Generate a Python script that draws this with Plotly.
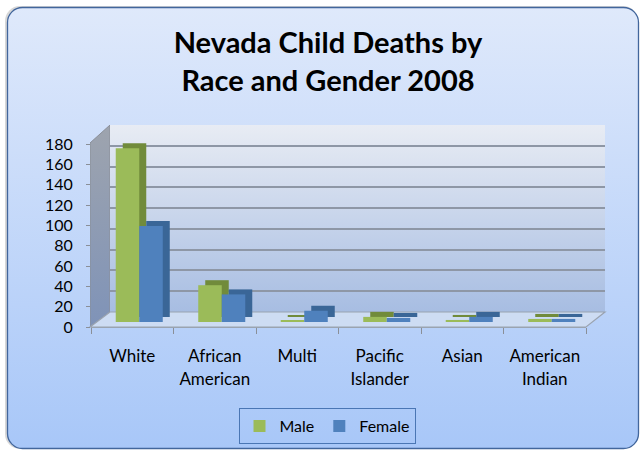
import base64
import plotly.graph_objects as go

categories = ["White", "African<br>American", "Multi", "Pacific<br>Islander", "Asian", "American<br>Indian"]
male = [170, 36, 1, 5, 2, 3]
female = [94, 27, 11, 4, 5, 3]
y_ticks = [0, 20, 40, 60, 80, 100, 120, 140, 160, 180]
series_names = ["Male", "Female"]
face_colors = ["#9bbb59", "#4f81bd"]
side_colors = ["#718b3b", "#3a6697"]

W, H = 642, 450
YMAX = 180

def px_x(px):
    return px / W

def px_y(py):
    return 1 - py / H

def xdom(left, right):
    return [px_x(left), px_x(right)]

def ydom(zero_px, top_px):
    return [px_y(zero_px), px_y(top_px)]

def svg_uri(svg):
    return "data:image/svg+xml;base64," + base64.b64encode(svg.encode()).decode()

chart_bg = svg_uri(
    f'<svg xmlns="http://www.w3.org/2000/svg" width="{W}" height="{H}" viewBox="0 0 {W} {H}" preserveAspectRatio="none">'
    '<defs><linearGradient id="g" x1="0" y1="0" x2="0" y2="1">'
    '<stop offset="0" stop-color="#dfe9fb"/><stop offset="1" stop-color="#a8c7f8"/>'
    '</linearGradient></defs>'
    '<rect x="5" y="6" width="633" height="443" rx="15" fill="#bdbdbd" opacity="0.6"/>'
    '<rect x="7.5" y="7.5" width="631" height="441" rx="15" fill="url(#g)" stroke="#42669c" stroke-width="1.3"/>'
    '</svg>'
)
wall_bg = svg_uri(
    '<svg xmlns="http://www.w3.org/2000/svg" width="100" height="100" viewBox="0 0 100 100" preserveAspectRatio="none">'
    '<defs><linearGradient id="w" x1="0" y1="0" x2="0" y2="1">'
    '<stop offset="0" stop-color="#e8ecf4"/><stop offset="1" stop-color="#a7bde2"/>'
    '</linearGradient></defs>'
    '<rect x="0" y="0" width="100" height="100" fill="url(#w)"/>'
    '</svg>'
)
side_wall = svg_uri(
    '<svg xmlns="http://www.w3.org/2000/svg" width="20" height="202" viewBox="0 0 20 202" preserveAspectRatio="none">'
    '<defs><linearGradient id="s" x1="0" y1="0" x2="0" y2="1">'
    '<stop offset="0" stop-color="#9ea4ae"/><stop offset="1" stop-color="#7f93b8"/>'
    '</linearGradient></defs>'
    '<path d="M0,18 L20,0 L20,187 L0,202 Z" fill="url(#s)" stroke="#8a8f98" stroke-width="1"/>'
    '</svg>'
)

# pixel geometry of the pseudo-3D box
FRONT_L, FRONT_R, FRONT_ZERO, FRONT_TOP = 91, 586, 327, 144
BACK_L, BACK_R, BACK_ZERO, BACK_TOP = 110, 605, 312, 125
BAR_DX, BAR_ZERO, BAR_TOP = 7, 322, 138
DEPTH_DX, DEPTH_DY = 7, 5

fig = go.Figure()

# invisible anchors so the front axes and the back-wall grid get drawn
fig.add_trace(go.Scatter(x=categories, y=male, xaxis="x", yaxis="y", mode="markers",
                         marker=dict(opacity=0), showlegend=False, hoverinfo="skip"))
fig.add_trace(go.Scatter(x=categories, y=male, xaxis="x2", yaxis="y2", mode="markers",
                         marker=dict(opacity=0), showlegend=False, hoverinfo="skip"))
# bar depth (drawn behind the faces)
for name, vals, col in zip(series_names, [male, female], side_colors):
    fig.add_trace(go.Bar(name=name, x=categories, y=vals, xaxis="x3", yaxis="y3",
                         marker=dict(color=col, line=dict(width=0)),
                         showlegend=False, hoverinfo="skip"))
# bar faces
for name, vals, col in zip(series_names, [male, female], face_colors):
    fig.add_trace(go.Bar(name=name, x=categories, y=vals, xaxis="x4", yaxis="y4",
                         marker=dict(color=col, line=dict(width=0))))

floor_path = (f"M {px_x(FRONT_L - 1)},{px_y(FRONT_ZERO)} L {px_x(FRONT_R)},{px_y(FRONT_ZERO)} "
              f"L {px_x(BACK_R)},{px_y(BACK_ZERO)} L {px_x(BACK_L)},{px_y(BACK_ZERO)} Z")

fig.update_layout(
    width=W, height=H,
    margin=dict(l=0, r=0, t=0, b=0),
    paper_bgcolor="rgba(0,0,0,0)",
    plot_bgcolor="rgba(0,0,0,0)",
    font=dict(family="Lato, Carlito, sans-serif", color="#000000", size=16),
    title=dict(text="<b>Nevada Child Deaths by<br>Race and Gender 2008</b>",
               x=328 / W, xref="container", xanchor="center",
               y=1 - 53 / H, yref="container", yanchor="middle",
               font=dict(size=29, family="Lato, sans-serif", color="#000000")),
    barmode="group", bargap=0.43, bargroupgap=0.0,
    showlegend=True,
    legend=dict(orientation="h", xanchor="center", yanchor="middle",
                x=327 / W, y=1 - 426 / H,
                bgcolor="rgba(0,0,0,0)", bordercolor="#4a76b4", borderwidth=1,
                font=dict(size=16), itemwidth=30, traceorder="normal",
                tracegroupgap=0),
    images=[
        dict(source=chart_bg, xref="paper", yref="paper",
             x=0, y=1, sizex=1, sizey=1,
             xanchor="left", yanchor="top", sizing="stretch", layer="below"),
        dict(source=wall_bg, xref="paper", yref="paper",
             x=px_x(BACK_L), y=px_y(BACK_TOP),
             sizex=px_x(BACK_R) - px_x(BACK_L), sizey=px_y(BACK_TOP) - px_y(BACK_ZERO),
             xanchor="left", yanchor="top", sizing="stretch", layer="below"),
        dict(source=side_wall, xref="paper", yref="paper",
             x=px_x(FRONT_L - 1), y=px_y(BACK_TOP),
             sizex=px_x(BACK_L) - px_x(FRONT_L - 1), sizey=px_y(BACK_TOP) - px_y(FRONT_ZERO),
             xanchor="left", yanchor="top", sizing="stretch", layer="below"),
    ],
    shapes=[
        dict(type="path", path=floor_path, xref="paper", yref="paper",
             fillcolor="#cddcf3", line=dict(color="#9aa3b0", width=1.2), layer="below"),
    ],
    # front axes: labels and ticks
    xaxis=dict(domain=xdom(FRONT_L, FRONT_R), anchor="y", range=[-0.5, 5.5],
               type="category", categoryorder="array", categoryarray=categories,
               tickson="boundaries", ticks="outside", ticklen=6, tickcolor="#8a8f98",
               showline=True, linecolor="#9aa3b0", linewidth=1, showgrid=False,
               ticklabelstandoff=14, tickfont=dict(size=17), automargin=False,
               fixedrange=True),
    yaxis=dict(domain=ydom(FRONT_ZERO, FRONT_TOP), anchor="x", range=[0, YMAX],
               tickvals=y_ticks, ticktext=[str(v) for v in y_ticks],
               showgrid=False, showline=False, zeroline=False,
               ticks="outside", ticklen=4, tickcolor="#8a8f98",
               ticklabelstandoff=10, tickfont=dict(size=16), automargin=False),
    # back wall gridlines
    xaxis2=dict(domain=xdom(BACK_L, BACK_R), anchor="y2", range=[-0.5, 5.5],
                showticklabels=False, ticks="", showgrid=False, showline=False, zeroline=False),
    yaxis2=dict(domain=ydom(BACK_ZERO, BACK_TOP), anchor="x2", range=[0, YMAX],
                tickvals=y_ticks, showticklabels=False, ticks="",
                showgrid=True, gridcolor="#8e97a6", gridwidth=2,
                zeroline=False, showline=False),
    # bar depth
    xaxis3=dict(domain=xdom(FRONT_L + BAR_DX + DEPTH_DX, FRONT_R + BAR_DX + DEPTH_DX),
                anchor="y3", range=[-0.5, 5.5], visible=False),
    yaxis3=dict(domain=ydom(BAR_ZERO - DEPTH_DY, BAR_TOP - DEPTH_DY), anchor="x3",
                range=[0, YMAX], visible=False),
    # bar faces
    xaxis4=dict(domain=xdom(FRONT_L + BAR_DX, FRONT_R + BAR_DX), anchor="y4",
                range=[-0.5, 5.5], visible=False),
    yaxis4=dict(domain=ydom(BAR_ZERO, BAR_TOP), anchor="x4", range=[0, YMAX], visible=False),
)

fig.write_html("out.html")
